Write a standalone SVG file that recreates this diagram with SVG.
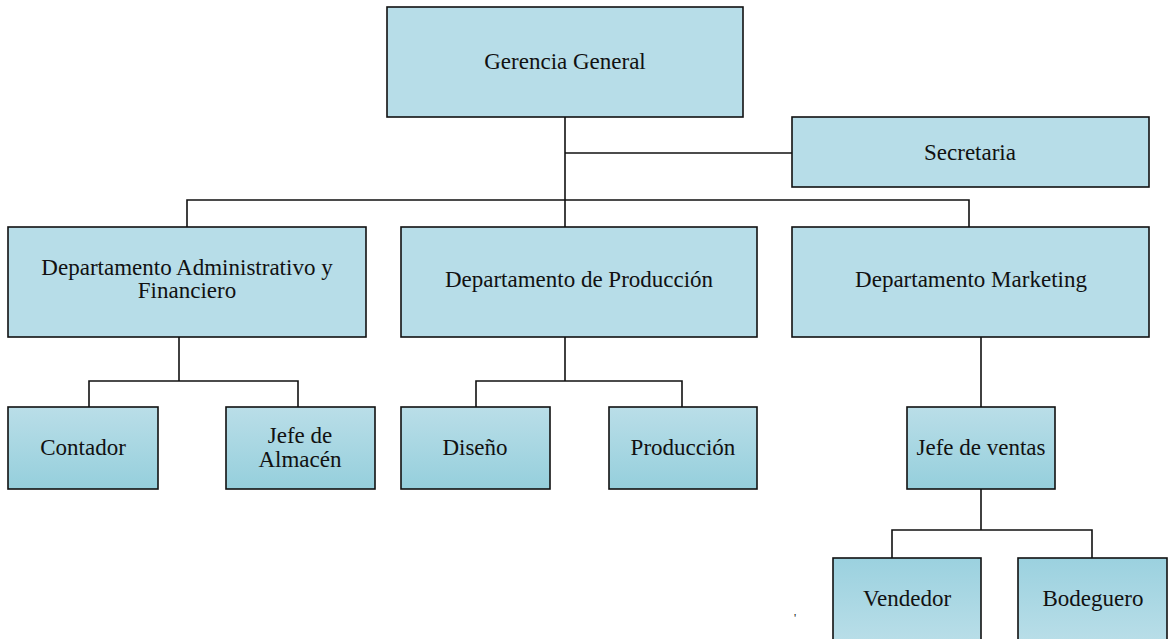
<svg xmlns="http://www.w3.org/2000/svg" width="1170" height="639" viewBox="0 0 1170 639">
<defs>
<linearGradient id="gDown" x1="0" y1="0" x2="0" y2="1">
<stop offset="0" stop-color="#badee8"/>
<stop offset="1" stop-color="#95cfdc"/>
</linearGradient>
<linearGradient id="gUp" x1="0" y1="0" x2="0" y2="1">
<stop offset="0" stop-color="#9bd1df"/>
<stop offset="1" stop-color="#b9dee8"/>
</linearGradient>
<style>
.box{fill:#b7dde8;stroke:#111;stroke-width:1.6}
.sbox{fill:url(#gDown);stroke:#111;stroke-width:1.6}
.ubox{fill:url(#gUp);stroke:#111;stroke-width:1.6}
text{font-family:"Liberation Serif","Times New Roman",serif;font-size:23px;fill:#111;text-anchor:middle}
.conn{fill:none;stroke:#111;stroke-width:1.6}
</style>
</defs>
<g id="connectors" class="conn">
<path d="M565 117 V227"/>
<path d="M565 153 H792"/>
<path d="M187 227 V200 H969 V227"/>
<path d="M179 337 V381"/>
<path d="M89 407 V381 H298 V407"/>
<path d="M565 337 V381"/>
<path d="M476 407 V381 H682 V407"/>
<path d="M981 337 V407"/>
<path d="M981 489 V530"/>
<path d="M892 558 V530 H1092 V558"/>
</g>
<g id="gerencia"><rect class="box" x="387" y="7" width="356" height="110"/><text x="565" y="69">Gerencia General</text></g>
<g id="secretaria"><rect class="box" x="792" y="117" width="357" height="70"/><text x="970" y="160">Secretaria</text></g>
<g id="dep-admin"><rect class="box" x="8" y="227" width="358" height="110"/><text x="187" y="275">Departamento Administrativo y</text><text x="187" y="298">Financiero</text></g>
<g id="dep-produccion"><rect class="box" x="401" y="227" width="356" height="110"/><text x="579" y="287">Departamento de Producción</text></g>
<g id="dep-marketing"><rect class="box" x="792" y="227" width="357" height="110"/><text x="971" y="287">Departamento Marketing</text></g>
<g id="contador"><rect class="sbox" x="8" y="407" width="150" height="82"/><text x="83" y="455">Contador</text></g>
<g id="jefe-almacen"><rect class="sbox" x="226" y="407" width="149" height="82"/><text x="300" y="443">Jefe de</text><text x="300" y="467">Almacén</text></g>
<g id="diseno"><rect class="sbox" x="401" y="407" width="149" height="82"/><text x="475" y="455">Diseño</text></g>
<g id="produccion"><rect class="sbox" x="609" y="407" width="148" height="82"/><text x="683" y="455">Producción</text></g>
<g id="jefe-ventas"><rect class="sbox" x="907" y="407" width="148" height="82"/><text x="981" y="455">Jefe de ventas</text></g>
<g id="vendedor"><rect class="ubox" x="833" y="558" width="148" height="84"/><text x="907" y="606">Vendedor</text></g>
<g id="bodeguero"><rect class="ubox" x="1018" y="558" width="149" height="84"/><text x="1093" y="606">Bodeguero</text></g>
<text x="795" y="622" style="font-size:12px">'</text>
</svg>
